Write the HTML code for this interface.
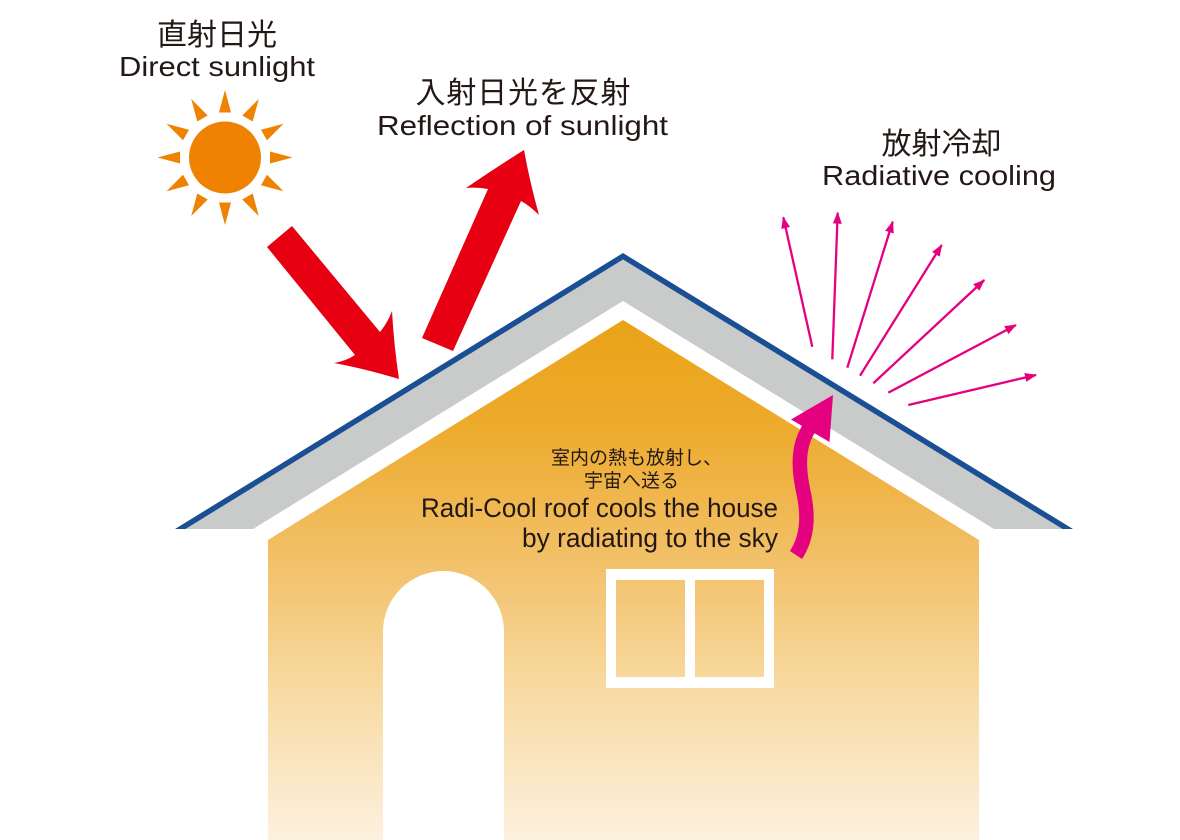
<!DOCTYPE html>
<html>
<head>
<meta charset="utf-8">
<style>
  html, body { margin: 0; padding: 0; background: #ffffff; }
  body { width: 1180px; height: 840px; overflow: hidden; }
  svg { display: block; }
  .jp { font-family: "Liberation Sans", "Noto Sans CJK JP", sans-serif; fill: #231815; }
  .en { font-family: "Liberation Sans", "Noto Sans CJK JP", sans-serif; fill: #231815; }
</style>
</head>
<body>
<svg width="1180" height="840" viewBox="0 0 1180 840" xmlns="http://www.w3.org/2000/svg">
  <defs>
    <linearGradient id="wall" x1="0" y1="320" x2="0" y2="840" gradientUnits="userSpaceOnUse">
      <stop offset="0" stop-color="#eaa318"/>
      <stop offset="0.19" stop-color="#edaa2a"/>
      <stop offset="0.46" stop-color="#f2c068"/>
      <stop offset="0.73" stop-color="#f8dca6"/>
      <stop offset="1" stop-color="#fcf0de"/>
    </linearGradient>
    <marker id="mh" markerUnits="userSpaceOnUse" markerWidth="12" markerHeight="10" refX="11" refY="4.5" orient="auto">
      <path d="M0,0 L12,4.5 L0,9 z" fill="#e4007f"/>
    </marker>
  </defs>

  <!-- House wall -->
  <polygon points="268,540 623,320 979,540 979,840 268,840" fill="url(#wall)"/>

  <!-- Door -->
  <path d="M383,840 L383,631.5 A60.5,60.5 0 0 1 504,631.5 L504,840 Z" fill="#ffffff"/>

  <!-- Window frame (panes show wall gradient) -->
  <path fill="#ffffff" fill-rule="evenodd" d="M606,569 H774 V688 H606 Z M616,580 V677 H685 V580 Z M695,580 V677 H764 V580 Z"/>

  <!-- Roof -->
  <polygon points="185.5,529 623,259.5 1062.5,529 994,529 623,301 253,529" fill="#c9caca"/>
  <polygon points="175,529 623,253 1073,529 1062.5,529 623,259.5 185.5,529" fill="#1b4f93"/>

  <!-- Sun -->
  <g fill="#ef8200">
    <circle cx="225" cy="157.5" r="36"/>
    <g transform="translate(225,157.5)">
      <polygon points="-6,-45 6,-45 0,-67.5" transform="rotate(0)"/>
      <polygon points="-6,-45 6,-45 0,-67.5" transform="rotate(30)"/>
      <polygon points="-6,-45 6,-45 0,-67.5" transform="rotate(60)"/>
      <polygon points="-6,-45 6,-45 0,-67.5" transform="rotate(90)"/>
      <polygon points="-6,-45 6,-45 0,-67.5" transform="rotate(120)"/>
      <polygon points="-6,-45 6,-45 0,-67.5" transform="rotate(150)"/>
      <polygon points="-6,-45 6,-45 0,-67.5" transform="rotate(180)"/>
      <polygon points="-6,-45 6,-45 0,-67.5" transform="rotate(210)"/>
      <polygon points="-6,-45 6,-45 0,-67.5" transform="rotate(240)"/>
      <polygon points="-6,-45 6,-45 0,-67.5" transform="rotate(270)"/>
      <polygon points="-6,-45 6,-45 0,-67.5" transform="rotate(300)"/>
      <polygon points="-6,-45 6,-45 0,-67.5" transform="rotate(330)"/>
    </g>
  </g>

  <!-- Red arrows -->
  <path d="M267,247 L292,226 L380,332 Q388,322 392,311 Q394,346 399,379 Q366,369 334,363 Q346,361 355,355 Z" fill="#e60012"/>
  <path d="M422,338 L453,351 L521,201 Q530,206 539,215 Q530,183 524,150 Q495,168 466,188 Q477,187 488,189 Z" fill="#e60012"/>

  <!-- Radiative cooling arrows -->
  <g stroke="#e4007f" stroke-width="2.3" fill="none" marker-end="url(#mh)">
    <line x1="812.3" y1="346.7" x2="783.3" y2="217.3"/>
    <line x1="832.3" y1="359.3" x2="837.7" y2="212.7"/>
    <line x1="847.3" y1="367.7" x2="892.7" y2="221.7"/>
    <line x1="860" y1="375.7" x2="941.7" y2="245"/>
    <line x1="873.3" y1="383.3" x2="984.3" y2="280"/>
    <line x1="888.3" y1="392.7" x2="1016" y2="325"/>
    <line x1="908.3" y1="405" x2="1036" y2="375"/>
  </g>

  <!-- Wavy magenta arrow -->
  <path d="M796,555 C809,535 808,512 803,490 C798,466 798,444 810,427" stroke="#e4007f" stroke-width="14.5" fill="none" stroke-linecap="butt"/>
  <polygon points="833,395 791,419.5 829.5,442" fill="#e4007f"/>

  <!-- Labels -->
  <text class="jp" x="157" y="45" font-size="30">直射日光</text>
  <text class="en" x="119" y="76" font-size="27.5" textLength="196" lengthAdjust="spacingAndGlyphs">Direct sunlight</text>

  <text class="jp" x="415.5" y="103" font-size="30" textLength="215" lengthAdjust="spacing">入射日光を反射</text>
  <text class="en" x="377" y="135" font-size="27.5" textLength="291" lengthAdjust="spacingAndGlyphs">Reflection of sunlight</text>

  <text class="jp" x="881.5" y="154" font-size="30">放射冷却</text>
  <text class="en" x="822" y="185" font-size="27.5" textLength="234" lengthAdjust="spacingAndGlyphs">Radiative cooling</text>

  <text class="jp" x="551" y="464" font-size="19">室内の熱も放射し、</text>
  <text class="jp" x="584" y="487" font-size="19">宇宙へ送る</text>
  <text class="en" x="421" y="517" font-size="26.5" textLength="357" lengthAdjust="spacingAndGlyphs">Radi-Cool roof cools the house</text>
  <text class="en" x="522" y="547" font-size="26.5" textLength="256" lengthAdjust="spacingAndGlyphs">by radiating to the sky</text>
</svg>
</body>
</html>
